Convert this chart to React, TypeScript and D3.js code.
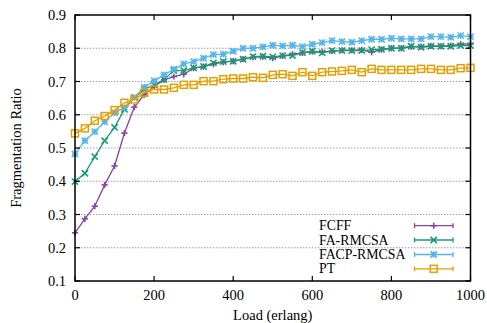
import React from "react";
import * as d3 from "d3";

const loads = [0, 25, 50, 75, 100, 125, 150, 175, 200, 225, 250, 275, 300, 325, 350, 375, 400, 425, 450, 475, 500, 525, 550, 575, 600, 625, 650, 675, 700, 725, 750, 775, 800, 825, 850, 875, 900, 925, 950, 975, 1000];

const fcff = [0.245, 0.287, 0.325, 0.389, 0.446, 0.545, 0.623, 0.660, 0.685, 0.705, 0.715, 0.722, 0.740, 0.745, 0.752, 0.758, 0.761, 0.767, 0.773, 0.775, 0.770, 0.777, 0.782, 0.786, 0.790, 0.789, 0.791, 0.794, 0.794, 0.795, 0.788, 0.796, 0.800, 0.800, 0.805, 0.805, 0.807, 0.806, 0.808, 0.812, 0.813];
const faRmcsa = [0.399, 0.424, 0.474, 0.522, 0.562, 0.616, 0.652, 0.676, 0.690, 0.706, 0.733, 0.733, 0.741, 0.745, 0.756, 0.760, 0.761, 0.767, 0.775, 0.776, 0.774, 0.778, 0.778, 0.787, 0.791, 0.786, 0.793, 0.793, 0.793, 0.793, 0.796, 0.797, 0.800, 0.800, 0.806, 0.803, 0.806, 0.806, 0.806, 0.808, 0.808];
const facpRmcsa = [0.482, 0.522, 0.549, 0.579, 0.606, 0.622, 0.652, 0.683, 0.702, 0.720, 0.737, 0.753, 0.760, 0.770, 0.781, 0.782, 0.791, 0.800, 0.800, 0.804, 0.809, 0.807, 0.809, 0.805, 0.812, 0.817, 0.823, 0.820, 0.818, 0.823, 0.827, 0.827, 0.830, 0.828, 0.828, 0.828, 0.835, 0.835, 0.833, 0.838, 0.835];
const pt = [0.544, 0.559, 0.582, 0.596, 0.614, 0.636, 0.646, 0.666, 0.676, 0.676, 0.681, 0.690, 0.690, 0.701, 0.701, 0.707, 0.709, 0.709, 0.713, 0.711, 0.720, 0.722, 0.717, 0.728, 0.717, 0.728, 0.730, 0.732, 0.735, 0.728, 0.738, 0.735, 0.735, 0.735, 0.735, 0.738, 0.738, 0.735, 0.735, 0.740, 0.741];

const seriesNames = ["FCFF", "FA-RMCSA", "FACP-RMCSA", "PT"];
const seriesValues = [fcff, faRmcsa, facpRmcsa, pt];
const seriesColors = ["#8445a6", "#1a9a70", "#56b4e9", "#e69f00"];
const seriesMarkers = ["plus", "cross", "star", "square"];

const xTicks = [0, 200, 400, 600, 800, 1000];
const yTicks = [0.1, 0.2, 0.3, 0.4, 0.5, 0.6, 0.7, 0.8, 0.9];
const yGrid = [0.2, 0.3, 0.4, 0.5, 0.6, 0.7, 0.8];

const W = 487, H = 323;
const L = 75, R = 470.5, T = 15, B = 281;
const FONT = "'Liberation Serif', 'DejaVu Serif', serif";

function Marker({ type, x, y, color }: { type: string; x: number; y: number; color: string }) {
  const s = 3.1;
  if (type === "plus") {
    return (
      <g stroke={color} strokeWidth={1.6}>
        <line x1={x - s} y1={y} x2={x + s} y2={y} />
        <line x1={x} y1={y - s} x2={x} y2={y + s} />
      </g>
    );
  }
  if (type === "cross") {
    return (
      <g stroke={color} strokeWidth={1.6}>
        <line x1={x - s} y1={y - s} x2={x + s} y2={y + s} />
        <line x1={x - s} y1={y + s} x2={x + s} y2={y - s} />
      </g>
    );
  }
  if (type === "star") {
    return (
      <g stroke={color} strokeWidth={1.6}>
        <line x1={x - s} y1={y - s} x2={x + s} y2={y + s} />
        <line x1={x - s} y1={y + s} x2={x + s} y2={y - s} />
        <line x1={x - s} y1={y} x2={x + s} y2={y} />
        <line x1={x} y1={y - s} x2={x} y2={y + s} />
      </g>
    );
  }
  return (
    <rect x={x - 3.5} y={y - 3.5} width={7} height={7} fill="none" stroke={color} strokeWidth={1.5} />
  );
}

export default function App() {
  const x = d3.scaleLinear().domain([0, 1000]).range([L, R]);
  const y = d3.scaleLinear().domain([0.1, 0.9]).range([B, T]);
  const line = d3
    .line<[number, number]>()
    .x((d) => x(d[0]))
    .y((d) => y(d[1]));

  const legendY = [225.7, 240, 254.5, 268.8];

  return (
    <svg
      width={W}
      height={H}
      style={{ position: "absolute", left: 0, top: 0, display: "block", background: "#fff" }}
      fontFamily={FONT}
    >
      <rect x={0} y={0} width={W} height={H} fill="#fff" />
      {yGrid.map((v) => (
        <line key={"g" + v} x1={L} x2={R} y1={y(v)} y2={y(v)} stroke="#8a8a8a" strokeWidth={0.8} strokeDasharray="1.5,1.5" />
      ))}

      {seriesValues.map((vals, si) => {
        const pts: [number, number][] = loads.map((l, i) => [l, vals[i]]);
        return (
          <g key={seriesNames[si]}>
            <path d={line(pts) || ""} fill="none" stroke={seriesColors[si]} strokeWidth={1.3} />
            {pts.map((p, i) => (
              <Marker key={i} type={seriesMarkers[si]} x={x(p[0])} y={y(p[1])} color={seriesColors[si]} />
            ))}
          </g>
        );
      })}

      {/* frame */}
      <rect x={L} y={T} width={R - L} height={B - T} fill="none" stroke="#000" strokeWidth={1.5} />
      {yTicks.map((v) => (
        <g key={"yt" + v}>
          <line x1={L} x2={L + 5} y1={y(v)} y2={y(v)} stroke="#000" strokeWidth={1.2} />
          <line x1={R} x2={R - 5} y1={y(v)} y2={y(v)} stroke="#000" strokeWidth={1.2} />
          <text x={66} y={y(v)} textAnchor="end" dominantBaseline="central" fontSize={14.5} fill="#000">
            {v.toFixed(1)}
          </text>
        </g>
      ))}
      {xTicks.map((v) => (
        <g key={"xt" + v}>
          <line x1={x(v)} x2={x(v)} y1={B} y2={B - 5} stroke="#000" strokeWidth={1.2} />
          <line x1={x(v)} x2={x(v)} y1={T} y2={T + 5} stroke="#000" strokeWidth={1.2} />
          <text x={x(v)} y={300} textAnchor="middle" fontSize={14.5} fill="#000">
            {v}
          </text>
        </g>
      ))}

      <text x={(L + R) / 2} y={320} textAnchor="middle" fontSize={14.5} fill="#000">
        Load (erlang)
      </text>
      <text
        transform={`translate(21,148) rotate(-90)`}
        textAnchor="middle"
        fontSize={14.5}
        fill="#000"
      >
        Fragmentation Ratio
      </text>

      {/* legend */}
      {seriesNames.map((name, si) => (
        <g key={"lg" + name}>
          <text x={319} y={legendY[si]} dominantBaseline="central" fontSize={13.8} fill="#000">
            {name}
          </text>
          <line x1={414.5} x2={453} y1={legendY[si]} y2={legendY[si]} stroke={seriesColors[si]} strokeWidth={1.3} />
          <line x1={414.5} x2={414.5} y1={legendY[si] - 2.5} y2={legendY[si] + 2.5} stroke={seriesColors[si]} strokeWidth={1.3} />
          <line x1={453} x2={453} y1={legendY[si] - 2.5} y2={legendY[si] + 2.5} stroke={seriesColors[si]} strokeWidth={1.3} />
          <Marker type={seriesMarkers[si]} x={433.7} y={legendY[si]} color={seriesColors[si]} />
        </g>
      ))}
    </svg>
  );
}
